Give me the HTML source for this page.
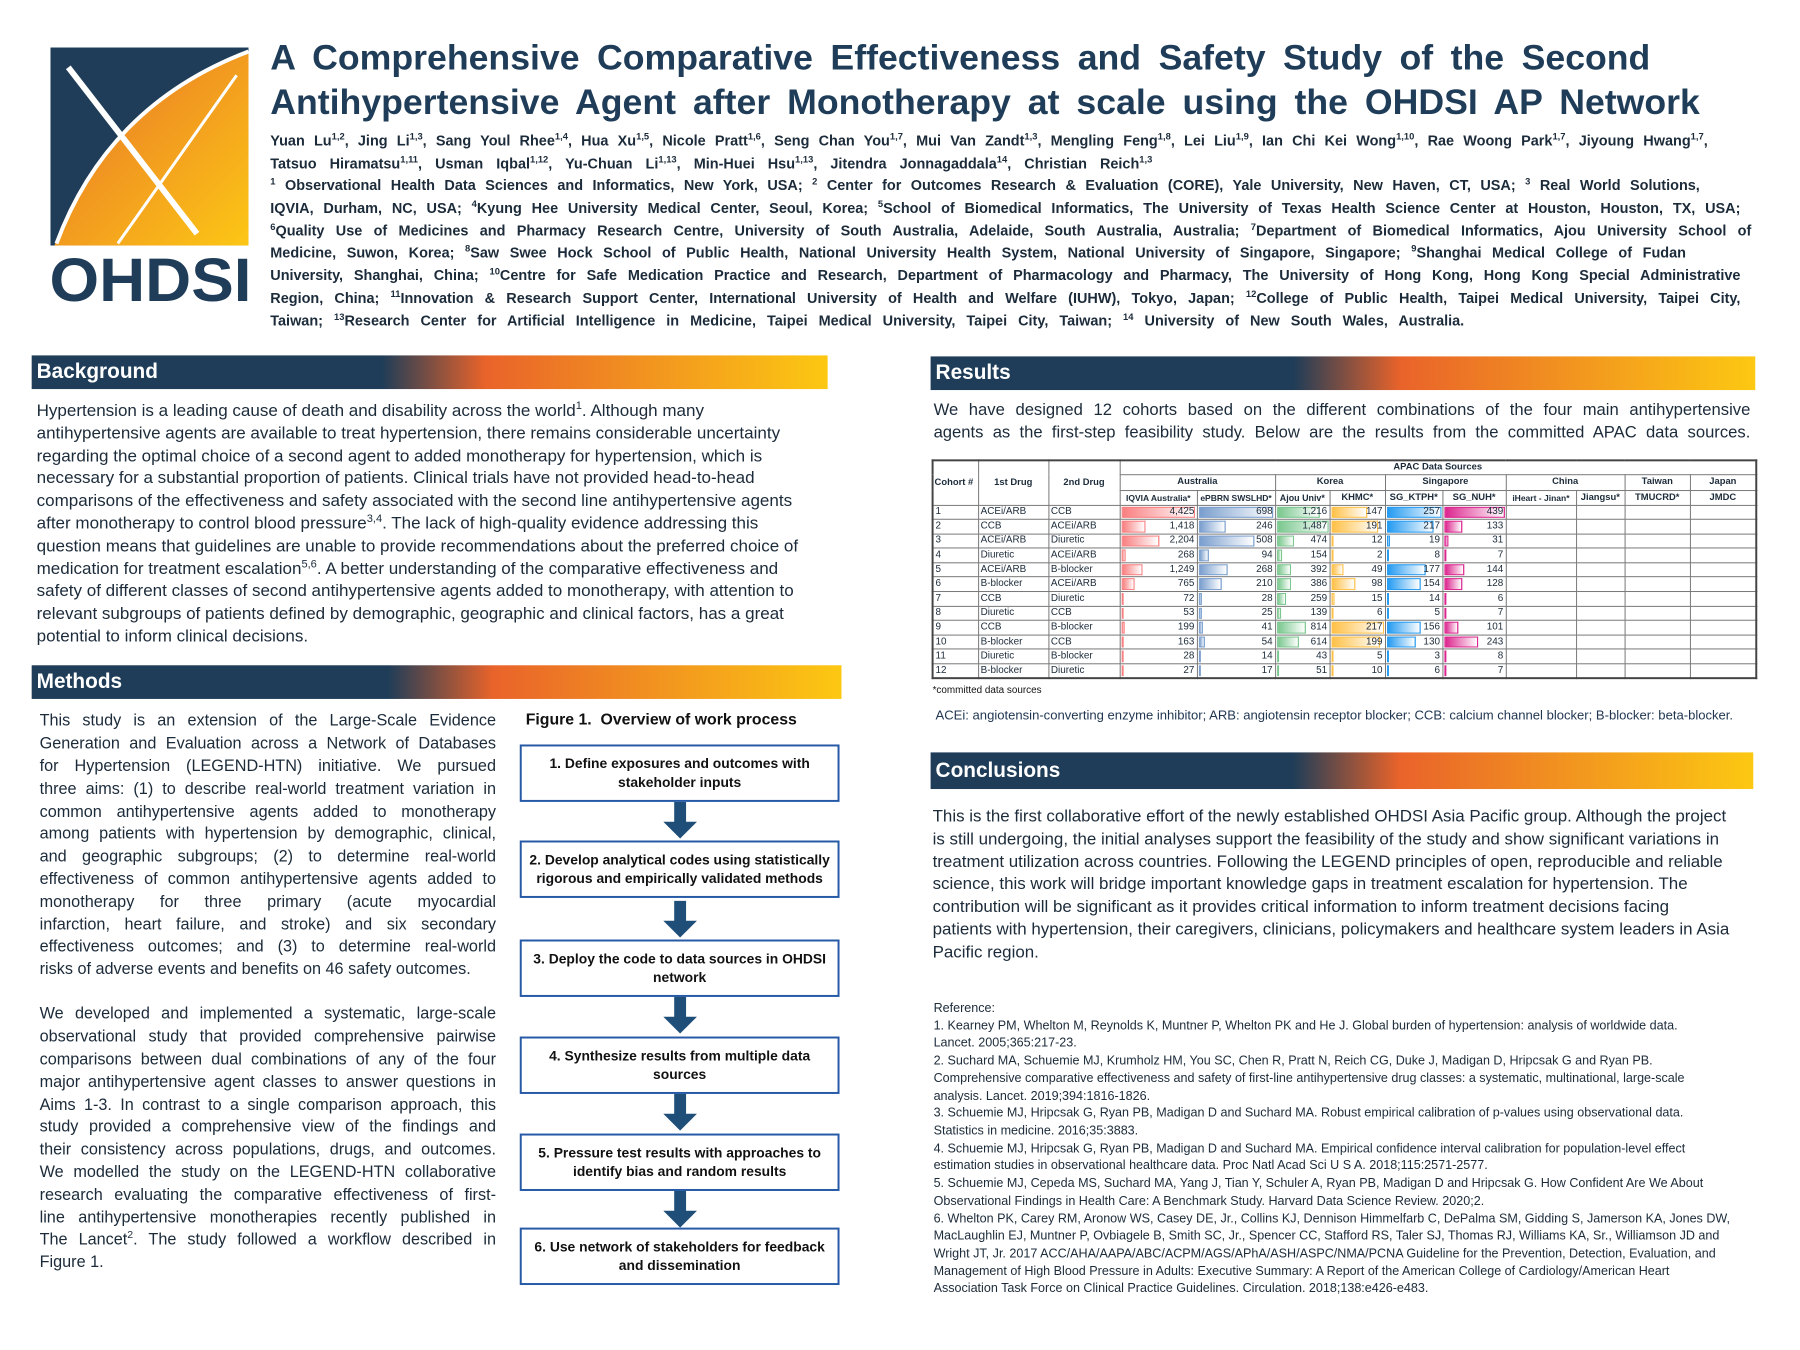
<!DOCTYPE html>
<html><head><meta charset="utf-8">
<style>
*{margin:0;padding:0;box-sizing:border-box}
body{width:1800px;height:1350px;background:#fff;position:relative;overflow:hidden;font-family:"Liberation Sans",sans-serif;color:#1c2b3a}
#w{position:absolute;left:0;top:0;width:1818px;height:1364px;transform:scale(0.99);transform-origin:0 0}
.a{position:absolute}
.t{position:absolute;left:273px;font-weight:bold;font-size:36px;color:#1f3d58;text-align:justify;text-align-last:justify;line-height:40px;white-space:nowrap}
.au{position:absolute;left:273px;font-weight:bold;font-size:14.6px;color:#1c2b3a;text-align:justify;text-align-last:justify;line-height:18px}
sup{font-size:0.65em;line-height:0}
.h{position:absolute;height:34px;color:#fff;font-weight:bold;font-size:21px;line-height:34px;padding-left:5px;background:linear-gradient(90deg,#1f3d58 0%,#1f3d58 44%,#e9632a 57%,#f39a1e 80%,#fcc812 100%)}
.bl{position:absolute;left:37px;font-size:17.2px;line-height:20px;white-space:nowrap}
.m{position:absolute;left:40px;width:461px;font-size:16.4px;line-height:20px;text-align:justify;text-align-last:justify}
.m.l{text-align-last:left}
.r{position:absolute;left:943px;width:825px;font-size:16.8px;line-height:20px;text-align:justify;text-align-last:justify}
.c{position:absolute;left:942px;font-size:17.1px;line-height:20px;white-space:nowrap}
.rf{position:absolute;left:943px;font-size:12.7px;line-height:14px;white-space:nowrap}
.bx{position:absolute;left:525px;width:323px;height:58px;border:2px solid #2659a6;font-weight:bold;font-size:14px;line-height:19px;text-align:center;display:flex;align-items:center;justify-content:center;padding:0 6px;color:#111}
table{position:absolute;left:941px;top:464px;border-collapse:collapse;table-layout:fixed;font-size:10px;border:2px solid #444}
td{border:1px solid #777;height:14.6px;padding:0 2px;white-space:nowrap;overflow:hidden;line-height:12px}
th{border:1px solid #777;font-weight:bold;font-size:9.5px;padding:0 1px;white-space:nowrap;overflow:hidden;line-height:12px}
td.b{position:relative;text-align:right}
td.b i{position:absolute;left:1px;top:1px;bottom:1px;background:linear-gradient(90deg,var(--c),#fff);border:1px solid var(--c);opacity:.85}
td.b span{position:relative}
tr.d td{border-top:1.5px solid #999}
</style></head><body><div id="w">

<svg class="a" style="left:49px;top:46px" width="206" height="262" viewBox="0 0 206 262">
<defs><linearGradient id="og" x1="0" y1="0" x2="1" y2="1"><stop offset="0" stop-color="#e8702a"/><stop offset="1" stop-color="#fcc715"/></linearGradient></defs>
<rect x="2" y="2" width="200" height="200" fill="#1f3d58"/>
<path d="M202,6 L202,202 L6,202 Q50,70 202,6 Z" fill="url(#og)"/>
<path d="M202,6 Q60,60 8,200" stroke="#fff" stroke-width="4" fill="none"/>
<path d="M20,22 L150,190" stroke="#fff" stroke-width="6" fill="none"/>
<path d="M190,30 L70,200" stroke="#fff" stroke-width="3" fill="none"/>
<text x="103" y="258" text-anchor="middle" font-family="Liberation Sans" font-weight="bold" font-size="62" fill="#1f3d58" textLength="204" lengthAdjust="spacingAndGlyphs">OHDSI</text>
</svg>

<div class="t" style="top:38px;width:1394px">A Comprehensive Comparative Effectiveness and Safety Study of the Second</div>
<div class="t" style="top:83px;width:1444px">Antihypertensive Agent after Monotherapy at scale using the OHDSI AP Network</div>

<div class="au" style="top:134px;width:1452px">Yuan Lu<sup>1,2</sup>, Jing Li<sup>1,3</sup>, Sang Youl Rhee<sup>1,4</sup>, Hua Xu<sup>1,5</sup>, Nicole Pratt<sup>1,6</sup>, Seng Chan You<sup>1,7</sup>, Mui Van Zandt<sup>1,3</sup>, Mengling Feng<sup>1,8</sup>, Lei Liu<sup>1,9</sup>, Ian Chi Kei Wong<sup>1,10</sup>, Rae Woong Park<sup>1,7</sup>, Jiyoung Hwang<sup>1,7</sup>,</div>
<div class="au" style="top:157px;width:891px">Tatsuo Hiramatsu<sup>1,11</sup>, Usman Iqbal<sup>1,12</sup>, Yu-Chuan Li<sup>1,13</sup>, Min-Huei Hsu<sup>1,13</sup>, Jitendra Jonnagaddala<sup>14</sup>, Christian Reich<sup>1,3</sup></div>
<div class="au" style="top:179px;width:1444px"><sup>1</sup> Observational Health Data Sciences and Informatics, New York, USA; <sup>2</sup> Center for Outcomes Research &amp; Evaluation (CORE), Yale University, New Haven, CT, USA; <sup>3</sup> Real World Solutions,</div>
<div class="au" style="top:202px;width:1485px">IQVIA, Durham, NC, USA; <sup>4</sup>Kyung Hee University Medical Center, Seoul, Korea; <sup>5</sup>School of Biomedical Informatics, The University of Texas Health Science Center at Houston, Houston, TX, USA;</div>
<div class="au" style="top:225px;width:1496px"><sup>6</sup>Quality Use of Medicines and Pharmacy Research Centre, University of South Australia, Adelaide, South Australia, Australia; <sup>7</sup>Department of Biomedical Informatics, Ajou University School of</div>
<div class="au" style="top:247px;width:1430px">Medicine, Suwon, Korea; <sup>8</sup>Saw Swee Hock School of Public Health, National University Health System, National University of Singapore, Singapore; <sup>9</sup>Shanghai Medical College of Fudan</div>
<div class="au" style="top:270px;width:1485px">University, Shanghai, China; <sup>10</sup>Centre for Safe Medication Practice and Research, Department of Pharmacology and Pharmacy, The University of Hong Kong, Hong Kong Special Administrative</div>
<div class="au" style="top:293px;width:1485px">Region, China; <sup>11</sup>Innovation &amp; Research Support Center, International University of Health and Welfare (IUHW), Tokyo, Japan; <sup>12</sup>College of Public Health, Taipei Medical University, Taipei City,</div>
<div class="au" style="top:316px;width:1206px">Taiwan; <sup>13</sup>Research Center for Artificial Intelligence in Medicine, Taipei Medical University, Taipei City, Taiwan; <sup>14</sup> University of New South Wales, Australia.</div>

<div class="h" style="left:32px;top:359px;width:804px">Background</div>
<div class="bl" style="top:404px">Hypertension is a leading cause of death and disability across the world<sup>1</sup>. Although many</div>
<div class="bl" style="top:427px">antihypertensive agents are available to treat hypertension, there remains considerable uncertainty</div>
<div class="bl" style="top:450px">regarding the optimal choice of a second agent to added monotherapy for hypertension, which is</div>
<div class="bl" style="top:472px">necessary for a substantial proportion of patients. Clinical trials have not provided head-to-head</div>
<div class="bl" style="top:495px">comparisons of the effectiveness and safety associated with the second line antihypertensive agents</div>
<div class="bl" style="top:518px">after monotherapy to control blood pressure<sup>3,4</sup>. The lack of high-quality evidence addressing this</div>
<div class="bl" style="top:541px">question means that guidelines are unable to provide recommendations about the preferred choice of</div>
<div class="bl" style="top:564px">medication for treatment escalation<sup>5,6</sup>. A better understanding of the comparative effectiveness and</div>
<div class="bl" style="top:586px">safety of different classes of second antihypertensive agents added to monotherapy, with attention to</div>
<div class="bl" style="top:609px">relevant subgroups of patients defined by demographic, geographic and clinical factors, has a great</div>
<div class="bl" style="top:632px">potential to inform clinical decisions.</div>

<div class="h" style="left:32px;top:672px;width:818px">Methods</div>
<div class="m" style="top:718px">This study is an extension of the Large-Scale Evidence</div>
<div class="m" style="top:741px">Generation and Evaluation across a Network of Databases</div>
<div class="m" style="top:764px">for Hypertension (LEGEND-HTN) initiative. We pursued</div>
<div class="m" style="top:787px">three aims: (1) to describe real-world treatment variation in</div>
<div class="m" style="top:810px">common antihypertensive agents added to monotherapy</div>
<div class="m" style="top:832px">among patients with hypertension by demographic, clinical,</div>
<div class="m" style="top:855px">and geographic subgroups; (2) to determine real-world</div>
<div class="m" style="top:878px">effectiveness of common antihypertensive agents added to</div>
<div class="m" style="top:901px">monotherapy for three primary (acute myocardial</div>
<div class="m" style="top:924px">infarction, heart failure, and stroke) and six secondary</div>
<div class="m" style="top:946px">effectiveness outcomes; and (3) to determine real-world</div>
<div class="m l" style="top:969px">risks of adverse events and benefits on 46 safety outcomes.</div>
<div class="m" style="top:1014px">We developed and implemented a systematic, large-scale</div>
<div class="m" style="top:1037px">observational study that provided comprehensive pairwise</div>
<div class="m" style="top:1060px">comparisons between dual combinations of any of the four</div>
<div class="m" style="top:1083px">major antihypertensive agent classes to answer questions in</div>
<div class="m" style="top:1106px">Aims 1-3. In contrast to a single comparison approach, this</div>
<div class="m" style="top:1128px">study provided a comprehensive view of the findings and</div>
<div class="m" style="top:1151px">their consistency across populations, drugs, and outcomes.</div>
<div class="m" style="top:1174px">We modelled the study on the LEGEND-HTN collaborative</div>
<div class="m" style="top:1197px">research evaluating the comparative effectiveness of first-</div>
<div class="m" style="top:1220px">line antihypertensive monotherapies recently published in</div>
<div class="m" style="top:1242px">The Lancet<sup>2</sup>. The study followed a workflow described in</div>
<div class="m l" style="top:1265px">Figure 1.</div>

<div class="a" style="left:531px;top:719px;font-weight:bold;font-size:16px;color:#111">Figure 1.&nbsp; Overview of work process</div>
<div class="bx" style="top:752px">1. Define exposures and outcomes with stakeholder inputs</div>
<div class="bx" style="top:849px">2. Develop analytical codes using statistically rigorous and empirically validated methods</div>
<div class="bx" style="top:949px">3. Deploy the code to data sources in OHDSI network</div>
<div class="bx" style="top:1047px">4. Synthesize results from multiple data sources</div>
<div class="bx" style="top:1145px">5. Pressure test results with approaches to identify bias and random results</div>
<div class="bx" style="top:1240px">6. Use network of stakeholders for feedback and dissemination</div>
<svg class="a" style="left:666px;top:810px" width="42" height="430" viewBox="0 0 42 430">
<g fill="#1f4e79">
<path d="M15,0 h12 v20 h11 l-17,17 l-17,-17 h11z"/>
<path d="M15,100 h12 v20 h11 l-17,17 l-17,-17 h11z"/>
<path d="M15,197 h12 v20 h11 l-17,17 l-17,-17 h11z"/>
<path d="M15,295 h12 v20 h11 l-17,17 l-17,-17 h11z"/>
<path d="M15,393 h12 v20 h11 l-17,17 l-17,-17 h11z"/>
</g></svg>

<div class="h" style="left:940px;top:360px;width:833px">Results</div>
<div class="r" style="top:404px">We have designed 12 cohorts based on the different combinations of the four main antihypertensive</div>
<div class="r" style="top:427px">agents as the first-step feasibility study. Below are the results from the committed APAC data sources.</div>

<table>
<colgroup><col style="width:46px"><col style="width:71px"><col style="width:72px"><col style="width:78px"><col style="width:79px"><col style="width:55px"><col style="width:56px"><col style="width:58px"><col style="width:64px"><col style="width:71px"><col style="width:49px"><col style="width:66px"><col style="width:67px"></colgroup>
<tr><th rowspan="3" style="text-align:left">Cohort #</th><th rowspan="3">1st Drug</th><th rowspan="3">2nd Drug</th><th colspan="10" style="height:14px">APAC Data Sources</th></tr>
<tr><th colspan="2" style="height:16px">Australia</th><th colspan="2">Korea</th><th colspan="2">Singapore</th><th colspan="2">China</th><th>Taiwan</th><th>Japan</th></tr>
<tr><th style="height:15px;font-size:8.6px">IQVIA Australia*</th><th style="font-size:8.6px">ePBRN SWSLHD*</th><th style="font-size:9px">Ajou Univ*</th><th>KHMC*</th><th>SG_KTPH*</th><th>SG_NUH*</th><th style="font-size:8.6px">iHeart - Jinan*</th><th>Jiangsu*</th><th>TMUCRD*</th><th>JMDC</th></tr>
<tr class="d"><td>1</td><td>ACEi/ARB</td><td>CCB</td><td class="b"><i style="--c:#f8696b;width:97%"></i><span>4,425</span></td><td class="b"><i style="--c:#638ec6;width:97%"></i><span>698</span></td><td class="b"><i style="--c:#63be7b;width:80%"></i><span>1,216</span></td><td class="b"><i style="--c:#ffb628;width:66%"></i><span>147</span></td><td class="b"><i style="--c:#008aef;width:97%"></i><span>257</span></td><td class="b"><i style="--c:#d6007b;width:97%"></i><span>439</span></td><td></td><td></td><td></td><td></td></tr>
<tr class="d"><td>2</td><td>CCB</td><td>ACEi/ARB</td><td class="b"><i style="--c:#f8696b;width:32%"></i><span>1,418</span></td><td class="b"><i style="--c:#638ec6;width:35%"></i><span>246</span></td><td class="b"><i style="--c:#63be7b;width:97%"></i><span>1,487</span></td><td class="b"><i style="--c:#ffb628;width:86%"></i><span>191</span></td><td class="b"><i style="--c:#008aef;width:84%"></i><span>217</span></td><td class="b"><i style="--c:#d6007b;width:30%"></i><span>133</span></td><td></td><td></td><td></td><td></td></tr>
<tr class="d"><td>3</td><td>ACEi/ARB</td><td>Diuretic</td><td class="b"><i style="--c:#f8696b;width:50%"></i><span>2,204</span></td><td class="b"><i style="--c:#638ec6;width:73%"></i><span>508</span></td><td class="b"><i style="--c:#63be7b;width:32%"></i><span>474</span></td><td class="b"><i style="--c:#ffb628;width:5%"></i><span>12</span></td><td class="b"><i style="--c:#008aef;width:7%"></i><span>19</span></td><td class="b"><i style="--c:#d6007b;width:7%"></i><span>31</span></td><td></td><td></td><td></td><td></td></tr>
<tr class="d"><td>4</td><td>Diuretic</td><td>ACEi/ARB</td><td class="b"><i style="--c:#f8696b;width:6%"></i><span>268</span></td><td class="b"><i style="--c:#638ec6;width:13%"></i><span>94</span></td><td class="b"><i style="--c:#63be7b;width:10%"></i><span>154</span></td><td class="b"><i style="--c:#ffb628;width:2%"></i><span>2</span></td><td class="b"><i style="--c:#008aef;width:3%"></i><span>8</span></td><td class="b"><i style="--c:#d6007b;width:2%"></i><span>7</span></td><td></td><td></td><td></td><td></td></tr>
<tr class="d"><td>5</td><td>ACEi/ARB</td><td>B-blocker</td><td class="b"><i style="--c:#f8696b;width:28%"></i><span>1,249</span></td><td class="b"><i style="--c:#638ec6;width:38%"></i><span>268</span></td><td class="b"><i style="--c:#63be7b;width:26%"></i><span>392</span></td><td class="b"><i style="--c:#ffb628;width:23%"></i><span>49</span></td><td class="b"><i style="--c:#008aef;width:69%"></i><span>177</span></td><td class="b"><i style="--c:#d6007b;width:33%"></i><span>144</span></td><td></td><td></td><td></td><td></td></tr>
<tr class="d"><td>6</td><td>B-blocker</td><td>ACEi/ARB</td><td class="b"><i style="--c:#f8696b;width:17%"></i><span>765</span></td><td class="b"><i style="--c:#638ec6;width:30%"></i><span>210</span></td><td class="b"><i style="--c:#63be7b;width:26%"></i><span>386</span></td><td class="b"><i style="--c:#ffb628;width:45%"></i><span>98</span></td><td class="b"><i style="--c:#008aef;width:60%"></i><span>154</span></td><td class="b"><i style="--c:#d6007b;width:29%"></i><span>128</span></td><td></td><td></td><td></td><td></td></tr>
<tr class="d"><td>7</td><td>CCB</td><td>Diuretic</td><td class="b"><i style="--c:#f8696b;width:2%"></i><span>72</span></td><td class="b"><i style="--c:#638ec6;width:4%"></i><span>28</span></td><td class="b"><i style="--c:#63be7b;width:17%"></i><span>259</span></td><td class="b"><i style="--c:#ffb628;width:7%"></i><span>15</span></td><td class="b"><i style="--c:#008aef;width:5%"></i><span>14</span></td><td class="b"><i style="--c:#d6007b;width:2%"></i><span>6</span></td><td></td><td></td><td></td><td></td></tr>
<tr class="d"><td>8</td><td>Diuretic</td><td>CCB</td><td class="b"><i style="--c:#f8696b;width:1%"></i><span>53</span></td><td class="b"><i style="--c:#638ec6;width:4%"></i><span>25</span></td><td class="b"><i style="--c:#63be7b;width:9%"></i><span>139</span></td><td class="b"><i style="--c:#ffb628;width:3%"></i><span>6</span></td><td class="b"><i style="--c:#008aef;width:2%"></i><span>5</span></td><td class="b"><i style="--c:#d6007b;width:2%"></i><span>7</span></td><td></td><td></td><td></td><td></td></tr>
<tr class="d"><td>9</td><td>CCB</td><td>B-blocker</td><td class="b"><i style="--c:#f8696b;width:4.5%"></i><span>199</span></td><td class="b"><i style="--c:#638ec6;width:6%"></i><span>41</span></td><td class="b"><i style="--c:#63be7b;width:55%"></i><span>814</span></td><td class="b"><i style="--c:#ffb628;width:97%"></i><span>217</span></td><td class="b"><i style="--c:#008aef;width:61%"></i><span>156</span></td><td class="b"><i style="--c:#d6007b;width:23%"></i><span>101</span></td><td></td><td></td><td></td><td></td></tr>
<tr class="d"><td>10</td><td>B-blocker</td><td>CCB</td><td class="b"><i style="--c:#f8696b;width:3.7%"></i><span>163</span></td><td class="b"><i style="--c:#638ec6;width:8%"></i><span>54</span></td><td class="b"><i style="--c:#63be7b;width:41%"></i><span>614</span></td><td class="b"><i style="--c:#ffb628;width:90%"></i><span>199</span></td><td class="b"><i style="--c:#008aef;width:51%"></i><span>130</span></td><td class="b"><i style="--c:#d6007b;width:55%"></i><span>243</span></td><td></td><td></td><td></td><td></td></tr>
<tr class="d"><td>11</td><td>Diuretic</td><td>B-blocker</td><td class="b"><i style="--c:#f8696b;width:1%"></i><span>28</span></td><td class="b"><i style="--c:#638ec6;width:2%"></i><span>14</span></td><td class="b"><i style="--c:#63be7b;width:3%"></i><span>43</span></td><td class="b"><i style="--c:#ffb628;width:2%"></i><span>5</span></td><td class="b"><i style="--c:#008aef;width:1%"></i><span>3</span></td><td class="b"><i style="--c:#d6007b;width:2%"></i><span>8</span></td><td></td><td></td><td></td><td></td></tr>
<tr class="d"><td>12</td><td>B-blocker</td><td>Diuretic</td><td class="b"><i style="--c:#f8696b;width:1%"></i><span>27</span></td><td class="b"><i style="--c:#638ec6;width:2%"></i><span>17</span></td><td class="b"><i style="--c:#63be7b;width:3%"></i><span>51</span></td><td class="b"><i style="--c:#ffb628;width:4%"></i><span>10</span></td><td class="b"><i style="--c:#008aef;width:2%"></i><span>6</span></td><td class="b"><i style="--c:#d6007b;width:2%"></i><span>7</span></td><td></td><td></td><td></td><td></td></tr>
</table>
<div class="a" style="left:942px;top:692px;font-size:10px;color:#111">*committed data sources</div>
<div class="a" style="left:945px;top:715px;font-size:13.2px;color:#1f3550">ACEi: angiotensin-converting enzyme inhibitor; ARB: angiotensin receptor blocker; CCB: calcium channel blocker; B-blocker: beta-blocker.</div>

<div class="h" style="left:940px;top:760px;width:831px;height:37px;line-height:37px">Conclusions</div>
<div class="c" style="top:815px">This is the first collaborative effort of the newly established OHDSI Asia Pacific group. Although the project</div>
<div class="c" style="top:838px">is still undergoing, the initial analyses support the feasibility of the study and show significant variations in</div>
<div class="c" style="top:861px">treatment utilization across countries. Following the LEGEND principles of open, reproducible and reliable</div>
<div class="c" style="top:883px">science, this work will bridge important knowledge gaps in treatment escalation for hypertension. The</div>
<div class="c" style="top:906px">contribution will be significant as it provides critical information to inform treatment decisions facing</div>
<div class="c" style="top:929px">patients with hypertension, their caregivers, clinicians, policymakers and healthcare system leaders in Asia</div>
<div class="c" style="top:952px">Pacific region.</div>

<div class="rf" style="top:1011px">Reference:</div>
<div class="rf" style="top:1029px">1. Kearney PM, Whelton M, Reynolds K, Muntner P, Whelton PK and He J. Global burden of hypertension: analysis of worldwide data.</div>
<div class="rf" style="top:1046px">Lancet. 2005;365:217-23.</div>
<div class="rf" style="top:1064px">2. Suchard MA, Schuemie MJ, Krumholz HM, You SC, Chen R, Pratt N, Reich CG, Duke J, Madigan D, Hripcsak G and Ryan PB.</div>
<div class="rf" style="top:1082px">Comprehensive comparative effectiveness and safety of first-line antihypertensive drug classes: a systematic, multinational, large-scale</div>
<div class="rf" style="top:1100px">analysis. Lancet. 2019;394:1816-1826.</div>
<div class="rf" style="top:1117px">3. Schuemie MJ, Hripcsak G, Ryan PB, Madigan D and Suchard MA. Robust empirical calibration of p-values using observational data.</div>
<div class="rf" style="top:1135px">Statistics in medicine. 2016;35:3883.</div>
<div class="rf" style="top:1153px">4. Schuemie MJ, Hripcsak G, Ryan PB, Madigan D and Suchard MA. Empirical confidence interval calibration for population-level effect</div>
<div class="rf" style="top:1170px">estimation studies in observational healthcare data. Proc Natl Acad Sci U S A. 2018;115:2571-2577.</div>
<div class="rf" style="top:1188px">5. Schuemie MJ, Cepeda MS, Suchard MA, Yang J, Tian Y, Schuler A, Ryan PB, Madigan D and Hripcsak G. How Confident Are We About</div>
<div class="rf" style="top:1206px">Observational Findings in Health Care: A Benchmark Study. Harvard Data Science Review. 2020;2.</div>
<div class="rf" style="top:1224px">6. Whelton PK, Carey RM, Aronow WS, Casey DE, Jr., Collins KJ, Dennison Himmelfarb C, DePalma SM, Gidding S, Jamerson KA, Jones DW,</div>
<div class="rf" style="top:1241px">MacLaughlin EJ, Muntner P, Ovbiagele B, Smith SC, Jr., Spencer CC, Stafford RS, Taler SJ, Thomas RJ, Williams KA, Sr., Williamson JD and</div>
<div class="rf" style="top:1259px">Wright JT, Jr. 2017 ACC/AHA/AAPA/ABC/ACPM/AGS/APhA/ASH/ASPC/NMA/PCNA Guideline for the Prevention, Detection, Evaluation, and</div>
<div class="rf" style="top:1277px">Management of High Blood Pressure in Adults: Executive Summary: A Report of the American College of Cardiology/American Heart</div>
<div class="rf" style="top:1294px">Association Task Force on Clinical Practice Guidelines. Circulation. 2018;138:e426-e483.</div>
</div></body></html>
